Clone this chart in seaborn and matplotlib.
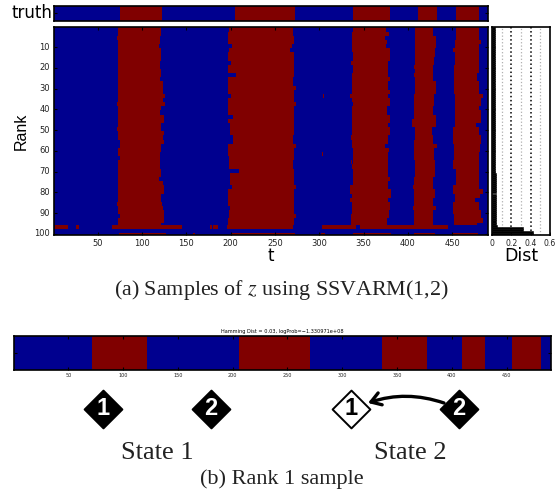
import numpy as np
import seaborn as sns
import matplotlib
matplotlib.use("Agg")
import matplotlib.pyplot as plt
from matplotlib.colors import ListedColormap
from matplotlib.patches import FancyArrowPatch

# state changes (t) for every second rank, ranks 1-96
b1 = [73,73,72,73,73,73,73,73,73,73,73,73,
      73,73,73,73,73,73,72,73,73,73,73,73,
      72,73,73,75,75,73,73,75,73,73,73,73,
      73,73,73,73,73,73,72,73,73,75,73,73]
b2 = [122,122,121,121,120,122,122,122,121,121,122,122,
      121,124,124,124,126,124,126,122,121,125,125,122,
      122,125,124,125,122,122,121,121,121,121,122,122,
      119,124,125,125,122,122,123,124,125,125,125,122]
b3 = [199,198,198,198,202,199,197,197,201,197,197,207,
      197,197,198,198,201,198,198,198,198,203,197,200,
      200,200,203,203,197,197,197,199,199,199,210,200,
      200,200,202,197,197,197,197,200,199,199,197,197]
b4 = [271,271,272,272,270,268,272,272,272,272,272,272,
      271,271,274,272,272,272,274,272,272,272,272,272,
      272,272,271,271,274,272,272,272,271,271,272,272,
      272,272,274,272,272,272,272,272,272,274,272,272]
b5 = [339,338,338,338,337,337,339,339,336,339,339,337,
      337,338,338,338,335,338,339,338,338,337,337,337,
      337,337,336,337,337,339,339,339,336,338,339,339,
      339,339,335,335,337,335,337,337,337,336,336,336]
b6 = [376,379,375,377,376,380,380,380,378,378,378,378,
      380,378,378,380,378,380,380,377,377,380,380,378,
      380,380,378,378,375,379,378,378,378,378,378,378,
      380,378,378,381,381,378,380,380,379,379,377,377]
b7 = [409,409,409,409,409,409,409,409,409,407,409,408,
      409,409,409,409,408,408,407,408,408,408,405,405,
      409,409,409,407,407,407,408,408,409,409,409,409,
      408,408,406,408,408,408,408,406,408,408,407,407]
b8 = [429,429,432,432,432,431,431,430,430,429,429,429,
      429,432,432,432,430,430,430,429,429,432,432,432,
      428,428,429,429,433,430,430,430,431,431,431,431,
      429,429,429,431,431,429,429,432,429,429,429,429]
b9 = [455,455,455,454,454,452,454,454,454,453,453,453,
      453,453,453,453,454,454,454,454,454,454,454,454,
      452,452,452,452,453,453,453,453,452,452,455,455,
      455,455,452,452,454,454,452,452,452,453,453,453]
b10 = [481,481,481,483,481,481,481,481,481,481,481,479,
       479,481,481,481,485,483,483,481,483,483,483,478,
       481,481,483,483,482,482,481,481,481,481,481,481,
       481,481,481,485,482,476,481,481,483,483,485,479]
boundaries = [b1, b2, b3, b4, b5, b6, b7, b8, b9, b10]

# red runs (start, end in t) of the odd ranks at the bottom
rank96_red = [(2,16),(26,28),(66,144),(177,178),(180,185),(196,270),(304,341),(346,445)]
rank100_red = [(74,126),(158,159),(201,272),(303,306),(339,381),(408,430),(452,479)]
# single cells (rank, t, state)
specks = [(33,305,1),(34,305,1),(38,259,0),(61,304,1),(62,304,1),(65,338,0),(66,338,0)]

truth_changes = [75,123,205,273,339,380,412,433,455,481]
rank1_changes = [72,122,206,271,337,378,410,431,455,482]

dist_levels = [0.03,0.035,0.04,0.045,0.05,0.32,0.42]
dist_counts = [40,30,20,5,1,2,2]

t_ticks = [50,100,150,200,250,300,350,400,450]
rank_ticks = [10,20,30,40,50,60,70,80,90,100]
dist_ticks = [0,0.2,0.4,0.6]
dist_labels = ['0','0.2','0.4','0.6']

T = 490
W, H = 555, 493
BLUE_RED = ListedColormap(['#00008f', '#800000'])
plt.rcParams['font.family'] = ['DejaVu Sans']


def pixel_axes(fig, left, top, right, bottom):
    return fig.add_axes([left / W, 1 - bottom / H, (right - left) / W, (bottom - top) / H])


def states_from_changes(changes):
    t = np.arange(1, T + 1)
    return np.searchsorted(changes, t, side='right') % 2


def style_box(ax):
    for s in ax.spines.values():
        s.set_visible(True)
        s.set_linewidth(1.2)
        s.set_color('black')


def draw_strip(ax, changes):
    sns.heatmap(states_from_changes(changes).reshape(1, -1), ax=ax, cmap=BLUE_RED, vmin=0, vmax=1,
                cbar=False, xticklabels=False, yticklabels=False)
    style_box(ax)
    ax.set_yticks([0.5])
    ax.set_yticklabels([''])
    ax.tick_params(axis='y', direction='in', left=True, right=True, length=2.5, width=0.8)


# build sample matrix
z = np.zeros((100, T), dtype=int)
for r in range(48):
    row = states_from_changes([b[r] for b in boundaries])
    z[2 * r] = row
    z[2 * r + 1] = row
z[95:99] = 0
for a, b in rank96_red:
    z[95:97, a - 1:b] = 1
for a, b in rank100_red:
    z[99, a - 1:b] = 1
for rank, t, state in specks:
    z[rank - 1, t - 1] = state

fig = plt.figure(figsize=(W / 100, H / 100), dpi=100)

ax_truth = pixel_axes(fig, 54, 6, 488, 20.5)
draw_strip(ax_truth, truth_changes)
ax_truth.set_ylabel('truth', rotation=0, fontsize=12, ha='right', va='center', labelpad=-2)

ax = pixel_axes(fig, 54, 27.5, 488, 235)
sns.heatmap(z, ax=ax, cmap=BLUE_RED, vmin=0, vmax=1, cbar=False)
style_box(ax)
ax.set_xticks(np.array(t_ticks) - 0.5)
ax.set_xticklabels(t_ticks, rotation=0, fontsize=6, color='#222222')
ax.set_yticks(np.array(rank_ticks) - 0.5)
ax.set_yticklabels(rank_ticks, rotation=0, fontsize=6, color='#222222')
ax.tick_params(direction='in', top=True, right=True, length=2.5, width=0.8, pad=3)
ax.set_xlabel('t', fontsize=12, labelpad=-1)
ax.set_ylabel('Rank', fontsize=11.5, family='Liberation Sans', labelpad=4)

ranks = np.arange(1, 101)
dist = np.repeat(dist_levels, dist_counts)
ax_dist = pixel_axes(fig, 492, 27.5, 550, 235)
sns.barplot(x=dist, y=ranks, orient='h', native_scale=True, width=1, color='black',
            saturation=1, edgecolor='black', linewidth=0.4, ax=ax_dist, zorder=3)
ax_dist.set_xlim(0, 0.6)
ax_dist.set_ylim(100.5, 0.5)
style_box(ax_dist)
for v in [0.1, 0.3, 0.5]:
    ax_dist.axvline(v, color='#b0b0b0', ls=':', lw=0.9, zorder=1)
for v in [0.2, 0.4]:
    ax_dist.axvline(v, color='black', ls=':', lw=1.1, zorder=1)
ax_dist.set_xticks(dist_ticks)
ax_dist.set_xticklabels(dist_labels, fontsize=5.6, color='#222222')
ax_dist.set_yticks(rank_ticks)
ax_dist.set_yticklabels([])
ax_dist.set_ylabel('')
ax_dist.tick_params(direction='in', length=2, width=0.6, pad=3)
ax_dist.set_xlabel('Dist', fontsize=12.5, labelpad=-1)

ax_rank1 = pixel_axes(fig, 14, 336, 551, 370)
draw_strip(ax_rank1, rank1_changes)
ax_rank1.set_xticks(np.array(t_ticks) - 0.5)
ax_rank1.set_xticklabels(t_ticks, rotation=0, fontsize=3.5, color='#222222')
ax_rank1.tick_params(axis='x', direction='in', top=True, bottom=True, length=2.5, width=0.8, pad=2.5)
ax_rank1.set_title('Hamming Dist = 0.03, logProb=\u22121.330971e+08', fontsize=3.6, pad=2.5)

# diagram and captions drawn in figure pixels
ov = fig.add_axes([0, 0, 1, 1])
ov.set_xlim(0, W)
ov.set_ylim(H, 0)
ov.axis('off')
ov.patch.set_alpha(0)

diamonds = [(103, 408.5, '1', 'black', 'white'), (211, 408.5, '2', 'black', 'white'),
            (351, 408.5, '1', 'white', 'black'), (459, 408.5, '2', 'black', 'white')]
for x, y, label, face, ink in diamonds:
    ov.scatter([x], [y], marker='D', s=370, facecolor=face, edgecolor='black', linewidth=1.4, zorder=3)
    ov.text(x, y, label, color=ink, fontsize=17, fontweight='bold', family='Liberation Sans',
            ha='center', va='center', zorder=4)
ov.add_patch(FancyArrowPatch((444, 403), (368, 403), connectionstyle='arc3,rad=0.17',
                             arrowstyle='->,head_length=7,head_width=4.5', lw=2.4, color='black',
                             shrinkA=0, shrinkB=0, zorder=5))

SERIF = 'Liberation Serif'
ov.text(157, 453, 'State 1', family=SERIF, fontsize=19, color='#222222', ha='center', va='center')
ov.text(410, 453, 'State 2', family=SERIF, fontsize=19, color='#222222', ha='center', va='center')
ov.text(281.5, 290.5, '(a) Samples of $z$ using SSVARM(1,2)', family=SERIF, fontsize=15.8, color='#222222',
        ha='center', va='center', math_fontfamily='stix')
ov.text(281.5, 479, '(b) Rank 1 sample', family=SERIF, fontsize=16, color='#222222', ha='center', va='center')

fig.savefig('out.png', dpi=100)
